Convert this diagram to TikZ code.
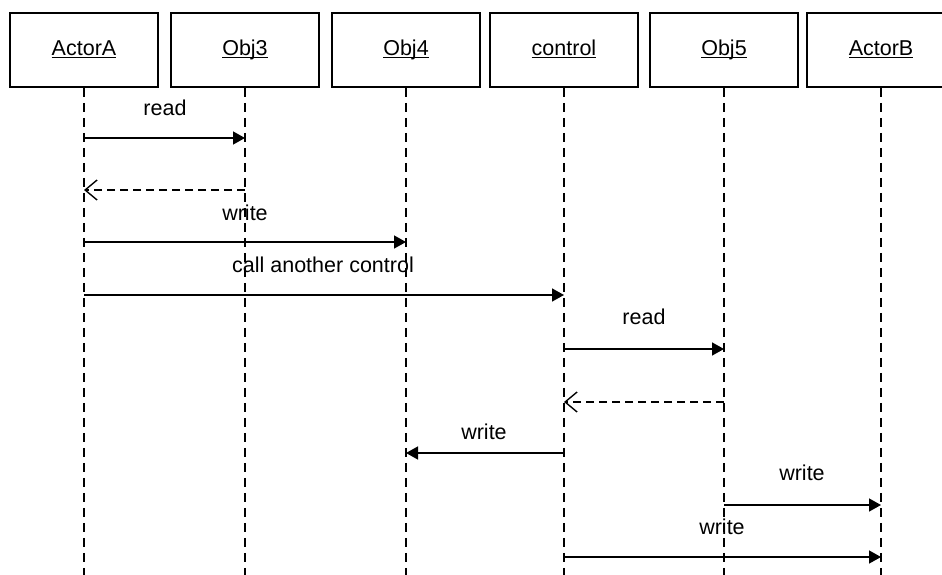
\documentclass[tikz,border=0pt]{standalone}
\usepackage{fontspec}
\setmainfont{Liberation Sans}
\usetikzlibrary{arrows.meta}
% underline at a fixed depth, ignoring descenders
\newcommand{\objname}[1]{\underline{\raisebox{0pt}[\height][0pt]{#1}}}
\begin{document}
\begin{tikzpicture}[x=1pt,y=-1pt,
  obj/.style={draw, line width=1.7pt, minimum width=148pt, minimum height=74pt,
    inner sep=0pt, text height=16pt, text depth=4pt,
    font=\fontsize{21.5}{25}\selectfont},
  life/.style={line width=1.4pt, dash pattern=on 9pt off 6pt},
  msg/.style={line width=1.5pt, -{Triangle[length=12pt,width=13pt]}},
  ret/.style={line width=1.4pt, dash pattern=on 8pt off 5pt,
    -{Straight Barb[length=12pt,width=20pt,line width=1.4pt]}},
  lbl/.style={font=\fontsize{21.5}{25}\selectfont, inner sep=0pt}]
\useasboundingbox (0,0) rectangle (942,575);
\clip (0,0) rectangle (942,575);

% object boxes
\node[obj] (actA) at (84,50)  {\objname{ActorA}};
\node[obj] (obj3) at (245,50) {\objname{Obj3}};
\node[obj] (obj4) at (406,50) {\objname{Obj4}};
\node[obj] (ctrl) at (564,50) {\objname{control}};
\node[obj] (obj5) at (724,50) {\objname{Obj5}};
\node[obj] (actB) at (881,50) {\objname{ActorB}};

% lifelines
\foreach \n in {actA,obj3,obj4,ctrl,obj5,actB}
  \draw[life] (\n.south) -- (\n.south |- 0,575);

% messages
\draw[msg] (actA.south |- 0,138) -- (obj3.south |- 0,138);
\node[lbl] (m1) at (165,108) {read};

\draw[ret] (obj3.south |- 0,190) -- (actA.south |- 0,190);

\draw[msg] (actA.south |- 0,242) -- (obj4.south |- 0,242);
\node[lbl] (m2) at (245,213) {write};

\draw[msg] (actA.south |- 0,295) -- (ctrl.south |- 0,295);
\node[lbl] (m3) at (323,265) {call another control};

\draw[msg] (ctrl.south |- 0,349) -- (obj5.south |- 0,349);
\node[lbl] (m4) at (644,317) {read};

\draw[ret] (obj5.south |- 0,402) -- (ctrl.south |- 0,402);

\draw[msg] (ctrl.south |- 0,453) -- (obj4.south |- 0,453);
\node[lbl] (m5) at (484,432) {write};

\draw[msg] (obj5.south |- 0,505) -- (actB.south |- 0,505);
\node[lbl] (m6) at (802,473) {write};

\draw[msg] (ctrl.south |- 0,557) -- (actB.south |- 0,557);
\node[lbl] (m7) at (722,527) {write};
\end{tikzpicture}
\end{document}
